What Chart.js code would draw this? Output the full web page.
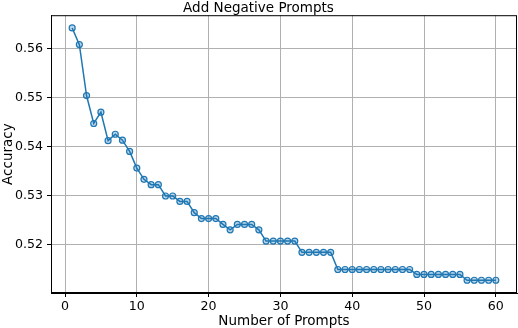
<!DOCTYPE html>
<html>
<head>
<meta charset="utf-8">
<script src="https://cdn.jsdelivr.net/npm/chart.js@4/dist/chart.umd.min.js"></script>
<style>
  html, body { margin: 0; padding: 0; background: #fff; }
  #wrap { width: 518px; height: 328px; }
</style>
</head>
<body>
<div id="wrap"><canvas id="chart" width="518" height="328"></canvas></div>
<script>
const prompts = [1, 2, 3, 4, 5, 6, 7, 8, 9, 10, 11, 12, 13, 14, 15, 16, 17, 18, 19, 20,
    21, 22, 23, 24, 25, 26, 27, 28, 29, 30, 31, 32, 33, 34, 35, 36, 37, 38, 39, 40,
    41, 42, 43, 44, 45, 46, 47, 48, 49, 50, 51, 52, 53, 54, 55, 56, 57, 58, 59, 60];

const accuracy = [0.5642, 0.5608, 0.5504, 0.5447, 0.5470, 0.5412, 0.5425, 0.5413, 0.5390, 0.5356,
    0.5333, 0.5322, 0.5322, 0.5299, 0.5299, 0.5288, 0.5288, 0.5265, 0.5253, 0.5253,
    0.5253, 0.5241, 0.5230, 0.5241, 0.5241, 0.5241, 0.5230, 0.5207, 0.5207, 0.5207,
    0.5207, 0.5207, 0.5184, 0.5184, 0.5184, 0.5184, 0.5184, 0.5149, 0.5149, 0.5149,
    0.5149, 0.5149, 0.5149, 0.5149, 0.5149, 0.5149, 0.5149, 0.5149, 0.5139, 0.5139,
    0.5139, 0.5139, 0.5139, 0.5139, 0.5139, 0.5127, 0.5127, 0.5127, 0.5127, 0.5127];

const xTicks = [0, 10, 20, 30, 40, 50, 60];
const yTicks = [0.52, 0.53, 0.54, 0.55, 0.56];

const BLUE = '#1f77b4';
const FONT = 'DejaVu Sans';

// matplotlib-style full box around the plot area
const frame = {
    id: 'frame',
    afterDatasetsDraw(chart) {
        const { ctx, chartArea: a } = chart;
        ctx.save();
        ctx.strokeStyle = '#000';
        ctx.lineWidth = 1;
        ctx.strokeRect(a.left + 0.5, a.top + 0.5, a.right - a.left - 1, a.bottom - a.top - 1);
        ctx.restore();
    },
};

new Chart(document.getElementById('chart'), {
    type: 'line',
    data: {
        datasets: [{
            label: 'Accuracy',
            data: prompts.map((p, i) => ({ x: p, y: accuracy[i] })),
            borderColor: BLUE,
            borderWidth: 1.5,
            backgroundColor: 'rgba(31,119,180,0.3)',
            pointRadius: 3,
            pointBorderWidth: 1.2,
            pointBorderColor: BLUE,
            pointBackgroundColor: 'rgba(31,119,180,0.3)',
            tension: 0,
        }],
    },
    options: {
        responsive: false,
        animation: false,
        layout: { autoPadding: false, padding: { top: 0, right: 1, left: 0, bottom: 0 } },
        plugins: {
            legend: { display: false },
            tooltip: { enabled: false },
            title: {
                display: true,
                text: 'Add Negative Prompts',
                color: '#000',
                font: { family: FONT, size: 13.5, weight: 'normal' },
                padding: { top: 0, bottom: -1 },
            },
        },
        scales: {
            x: {
                type: 'linear',
                min: -1.95,
                max: 62.95,
                afterBuildTicks: (s) => { s.ticks = xTicks.map((v) => ({ value: v })); },
                afterFit: (s) => { s.height = 35; s.paddingLeft = 0; s.paddingRight = 0; },
                ticks: {
                    color: '#000',
                    font: { family: FONT, size: 12.6 },
                    padding: 2,
                    maxRotation: 0,
                },
                grid: { color: '#b0b0b0', lineWidth: 1, tickLength: 4, tickColor: '#000' },
                border: { color: '#000' },
                title: {
                    display: true,
                    text: 'Number of Prompts',
                    color: '#000',
                    font: { family: FONT, size: 13.5 },
                    padding: { top: 0, bottom: -2 },
                },
            },
            y: {
                type: 'linear',
                min: 0.5101,
                max: 0.5668,
                afterBuildTicks: (s) => { s.ticks = yTicks.map((v) => ({ value: v })); },
                afterFit: (s) => { s.width = 51; s.paddingTop = 0; s.paddingBottom = 0; },
                ticks: {
                    color: '#000',
                    font: { family: FONT, size: 12.6 },
                    padding: 4,
                    callback: (v) => v.toFixed(2),
                },
                grid: { color: '#b0b0b0', lineWidth: 1, tickLength: 4, tickColor: '#000' },
                border: { color: '#000' },
                title: {
                    display: true,
                    text: 'Accuracy',
                    color: '#000',
                    font: { family: FONT, size: 13.5 },
                    padding: { top: 0, bottom: 0 },
                },
            },
        },
    },
    plugins: [frame],
});
</script>
</body>
</html>
